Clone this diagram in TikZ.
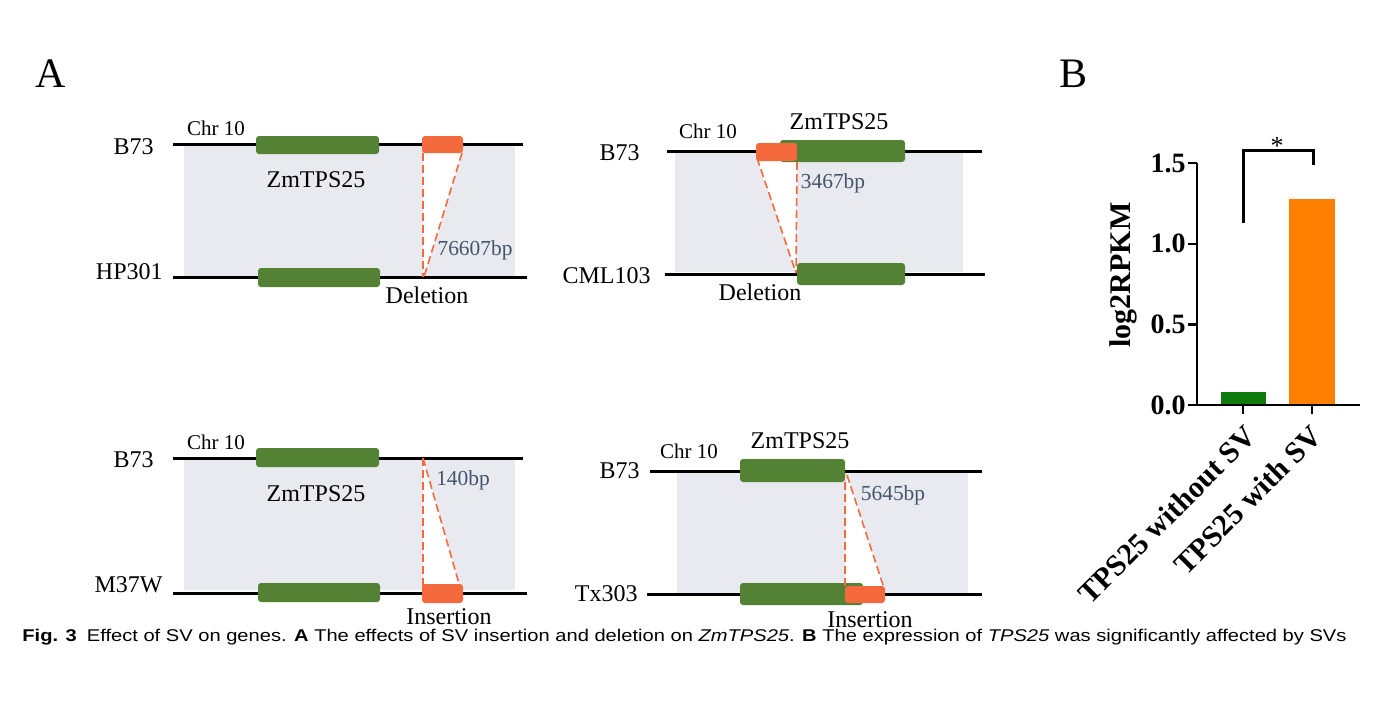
\documentclass[tikz,border=0pt]{standalone}
\usepackage{fontspec}
\usepackage{graphicx}
\setmainfont{Liberation Serif}
\newfontfamily\capfont{Liberation Sans}
\definecolor{genegreen}{RGB}{84,130,53}
\definecolor{svorange}{RGB}{244,106,60}
\definecolor{bandgray}{RGB}{232,234,239}
\definecolor{bplab}{RGB}{68,84,106}
\definecolor{bargreen}{RGB}{14,122,14}
\definecolor{barorange}{RGB}{255,128,0}
\begin{document}
\begin{tikzpicture}[x=0.5pt,y=-0.5pt,
  chrom/.style={line width=1.5pt,black},
  bandbox/.style={fill=bandgray},
  genebox/.style={fill=genegreen,rounded corners=1.5pt},
  svbox/.style={fill=svorange,rounded corners=1.5pt},
  svline/.style={draw=svorange,line width=0.8pt,dash pattern=on 4pt off 2pt},
  gap/.style={fill=white},
  lab/.style={font=\fontsize{12}{14}\selectfont,inner sep=0pt},
  chrlab/.style={font=\fontsize{10.5}{12}\selectfont,inner sep=0pt},
  bplabel/.style={font=\fontsize{10.7}{12}\selectfont,text=bplab,inner sep=0pt},
  panel/.style={font=\fontsize{21}{24}\selectfont,inner sep=0pt},
  ticklab/.style={font=\bfseries\fontsize{14}{16}\selectfont,inner sep=0pt,anchor=east},
  axlab/.style={font=\bfseries\fontsize{15}{17}\selectfont,inner sep=0pt},
  axis/.style={line width=1.2pt,black}
]
\useasboundingbox (0,0) rectangle (1387,702);

% ---------- Panel labels ----------
\node[panel] (pA) at (51,74) {A};
\node[panel] (pB) at (1073,74) {B};

% ---------- Panel 1: HP301 deletion ----------
\fill[bandbox] (184,146) rectangle (515,277);
\coordinate (p1a) at (423,153);
\coordinate (p1b) at (462,153);
\coordinate (p1c) at (424,277);
\coordinate (p1d) at (423,277);
\fill[gap] (p1a) -- (p1b) -- (p1c) -- (p1d) -- cycle;
\draw[chrom] (173,144) -- (523,144);
\draw[chrom] (173,277) -- (527,277);
\fill[genebox] (256,136) rectangle (379,154);
\fill[genebox] (258,268) rectangle (380,287);
\fill[svbox] (422,136) rectangle (463,153);
\draw[svline] (p1a) -- (p1d);
\draw[svline] (p1b) -- (p1c);
\node[chrlab] (c1) at (216,128) {Chr 10};
\node[lab] (g1) at (316,180) {ZmTPS25};
\node[bplabel] (bp1) at (475,250) {76607bp};
\node[lab] (d1) at (427,295) {Deletion};
\node[lab,anchor=east] (r1) at (154,147) {B73};
\node[lab,anchor=east] (q1) at (163,272) {HP301};

% ---------- Panel 2: CML103 deletion ----------
\fill[bandbox] (675,153) rectangle (963,272);
\coordinate (p2a) at (757,158);
\coordinate (p2b) at (797,162);
\coordinate (p2c) at (796,273);
\fill[gap] (p2a) -- (p2b) -- (p2c) -- cycle;
\draw[chrom] (667,151) -- (982,151);
\draw[chrom] (665,274) -- (985,274);
\fill[genebox] (780,140) rectangle (905,162);
\fill[svbox] (756,143) rectangle (797,161);
\fill[genebox] (797,263) rectangle (905,285);
\draw[svline] (p2a) -- (p2c);
\draw[svline] (p2b) -- (p2c);
\node[chrlab] (c2) at (708,131) {Chr 10};
\node[lab] (g2) at (839,122) {ZmTPS25};
\node[bplabel] (bp2) at (833,183) {3467bp};
\node[lab] (d2) at (760,292) {Deletion};
\node[lab,anchor=east] (r2) at (640,153) {B73};
\node[lab,anchor=east] (q2) at (651,276) {CML103};

% ---------- Panel 3: M37W insertion ----------
\fill[bandbox] (184,460) rectangle (515,590);
\coordinate (p3a) at (423,458);
\coordinate (p3b) at (423,587);
\coordinate (p3c) at (460,587);
\fill[gap] (p3a) -- (p3b) -- (p3c) -- cycle;
\draw[chrom] (173,458) -- (523,458);
\draw[chrom] (173,593) -- (527,593);
\fill[genebox] (256,448) rectangle (379,467);
\fill[genebox] (258,583) rectangle (380,602);
\fill[svbox] (422,584) rectangle (463,603);
\draw[svline] (p3a) -- (p3b);
\draw[svline] (p3a) -- (p3c);
\node[chrlab] (c3) at (216,442) {Chr 10};
\node[lab] (g3) at (316,494) {ZmTPS25};
\node[bplabel] (bp3) at (463,480) {140bp};
\node[lab] (d3) at (449,617) {Insertion};
\node[lab,anchor=east] (r3) at (154,460) {B73};
\node[lab,anchor=east] (q3) at (163,585) {M37W};

% ---------- Panel 4: Tx303 insertion ----------
\fill[bandbox] (677,473) rectangle (968,593);
\coordinate (p4a) at (845,482);
\coordinate (p4e) at (847,475);
\coordinate (p4b) at (845,590);
\coordinate (p4c) at (884,588);
\fill[gap] (p4e) -- (p4b) -- (p4c) -- cycle;
\draw[chrom] (650,471) -- (982,471);
\draw[chrom] (647,594) -- (982,594);
\fill[genebox] (740,459) rectangle (845,482);
\fill[genebox] (740,583) rectangle (863,605);
\fill[svbox] (845,586) rectangle (885,603);
\draw[svline] (p4a) -- (p4b);
\draw[svline] (p4e) -- (p4c);
\node[chrlab] (c4) at (689,451) {Chr 10};
\node[lab] (g4) at (800,441) {ZmTPS25};
\node[bplabel] (bp4) at (893,495) {5645bp};
\node[lab] (d4) at (870,620) {Insertion};
\node[lab,anchor=east] (r4) at (640,471) {B73};
\node[lab,anchor=east] (q4) at (638,594) {Tx303};

% ---------- Panel B: bar chart ----------
\fill[bargreen] (1221,392) rectangle (1266,405);
\fill[barorange] (1289,199) rectangle (1335,405);
\draw[axis] (1197,163) -- (1197,405) -- (1360,405);
\foreach \v/\t in {0/0.0,0.5/0.5,1/1.0,1.5/1.5}{
  \draw[axis] (1188,{405-161.3*\v}) -- (1197,{405-161.3*\v});
  \node[ticklab] at (1186,{405-161.3*\v}) {\t};
}
\draw[axis] (1243,405) -- (1243,414);
\draw[axis] (1312,405) -- (1312,414);
\node[axlab,rotate=90] (ylab) at (1123,275) {log2RPKM};
\node[axlab,rotate=45,anchor=east] (x1) at (1251,431) {TPS25 without SV};
\node[axlab,rotate=45,anchor=east] (x2) at (1317,431) {TPS25 with SV};
\coordinate (br1) at (1243,223);
\coordinate (br2) at (1243,150);
\coordinate (br3) at (1313,150);
\coordinate (br4) at (1313,165);
\draw[line width=1.5pt] (br1) -- (br2) -- (br3) -- (br4);
\node[font=\fontsize{13}{14}\selectfont,inner sep=0pt,anchor=base] (star) at (1277,154) {*};

% ---------- Caption ----------
\node[anchor=base west,inner sep=0pt] (cap) at (22,641) {\resizebox{662pt}{\height}{\capfont\fontsize{8.5}{10}\selectfont
\textbf{Fig. 3}\enspace Effect of SV on genes. \textbf{A} The effects of SV insertion and deletion on \textit{ZmTPS25}. \textbf{B} The expression of \textit{TPS25} was significantly affected by SVs}};
\end{tikzpicture}
\end{document}
